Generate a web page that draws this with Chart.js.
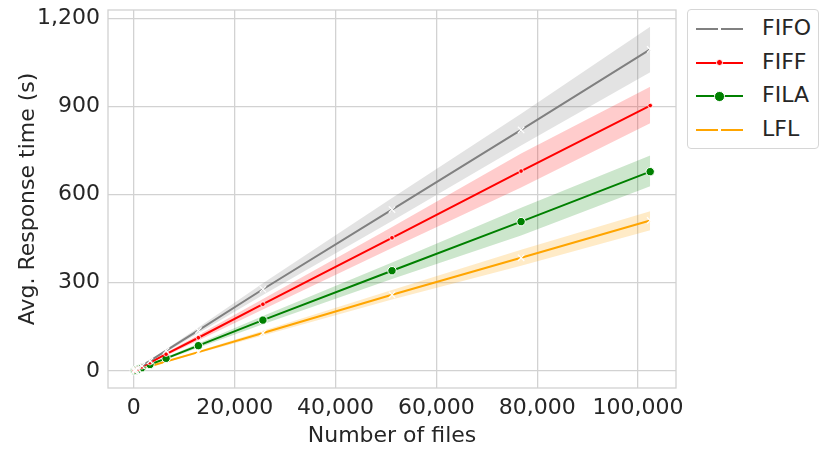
<!DOCTYPE html>
<html>
<head>
<meta charset="utf-8">
<script src="https://cdn.jsdelivr.net/npm/chart.js@4"></script>
<style>
  body { margin: 0; background: #fff; }
  #wrap { position: relative; width: 830px; height: 456px; font-family: "DejaVu Sans", sans-serif; }
  #legend {
    position: absolute; left: 687px; top: 9px; width: 132px; height: 140px;
    border: 1px solid #d6d6d6; border-radius: 4px; background: #fff; box-sizing: border-box;
  }
  .item { position: absolute; left: 8px; height: 24px; width: 120px; }
  .sample { position: absolute; left: 0; top: 11px; width: 47px; height: 2px; }
  .gap { position: absolute; left: 22px; top: -1px; width: 3px; height: 4px; background: #fff; }
  .dot { position: absolute; border-radius: 50%; border: 1px solid #fff; }
  .lbl { position: absolute; left: 66px; top: -2px; font-size: 22px; color: #262626; }
</style>
</head>
<body>
<div id="wrap">
  <canvas id="chart" width="830" height="456"></canvas>
  <div id="legend"></div>
</div>
<script>
// --- DATA ---
const files = [100, 200, 400, 800, 1600, 3200, 6400, 12800, 25600, 51200, 76800, 102400];
const seriesNames = ["FIFO", "FIFF", "FILA", "LFL"];

const fifo   = [1.1, 2.2, 4.3, 8.6, 17, 34, 69, 138, 278, 549, 820, 1094];
const fifoLo = [1.0, 2.0, 4.0, 8.0, 15.8, 31.6, 64, 128, 258, 510, 767, 1016];
const fifoHi = [1.2, 2.4, 4.6, 9.2, 18.2, 36.4, 74, 148, 298, 588, 875, 1171];

const fiff   = [0.9, 1.8, 3.6, 7.1, 14, 28, 57, 113, 227, 453, 680, 903];
const fiffLo = [0.8, 1.7, 3.3, 6.6, 13, 26, 52, 104, 209, 418, 624, 843];
const fiffHi = [1.0, 1.9, 3.9, 7.6, 15, 30, 62, 122, 245, 490, 740, 967];

const fila   = [0.7, 1.4, 2.7, 5.4, 11, 22, 43, 86, 173, 341, 508, 678];
const filaLo = [0.6, 1.3, 2.5, 5.0, 10, 20, 39, 79, 159, 313, 461, 628];
const filaHi = [0.8, 1.5, 2.9, 5.8, 12, 24, 47, 93, 187, 369, 555, 733];

const lfl    = [0.5, 1.0, 2.0, 4.0, 8, 16, 32, 64, 129, 259, 385, 512];
const lflLo  = [0.5, 0.9, 1.9, 3.8, 7.5, 15, 30, 60, 121, 243, 358, 479];
const lflHi  = [0.5, 1.1, 2.1, 4.2, 8.5, 17, 34, 68, 137, 275, 412, 543];

const xTicks = [0, 20000, 40000, 60000, 80000, 100000];
const yTicks = [0, 300, 600, 900, 1200];

// --- STYLE ---
const colors = ["#808080", "#ff0000", "#008000", "#ffa500"];
const bandColors = ["rgba(128,128,128,0.22)", "rgba(255,0,0,0.2)", "rgba(0,128,0,0.2)", "rgba(255,165,0,0.22)"];
const textColor = "#262626";
const gridColor = "#d2d2d2";

const means = [fifo, fiff, fila, lfl];
const lows = [fifoLo, fiffLo, filaLo, lflLo];
const highs = [fifoHi, fiffHi, filaHi, lflHi];
const markers = [
  { style: "crossRot", r: 4.5, bw: 1.2 },
  { style: "circle", r: 2.3, bw: 0.8 },
  { style: "circle", r: 4.2, bw: 1 },
  { style: "crossRot", r: 4.5, bw: 1.2 }
];

function pts(arr) { return files.map((f, i) => ({ x: f, y: arr[i] })); }

const datasets = [];
seriesNames.forEach((name, s) => {
  datasets.push({ label: name + " lo", data: pts(lows[s]), borderWidth: 0, pointRadius: 0, fill: false, order: 1 });
  datasets.push({ label: name + " hi", data: pts(highs[s]), borderWidth: 0, pointRadius: 0, fill: "-1", backgroundColor: bandColors[s], order: 1 });
});
seriesNames.forEach((name, s) => {
  datasets.push({
    label: name, data: pts(means[s]), borderColor: colors[s], borderWidth: 2, fill: false,
    pointStyle: markers[s].style, pointRadius: markers[s].r, pointBorderWidth: markers[s].bw,
    pointBackgroundColor: colors[s], pointBorderColor: "#ffffff", order: 0
  });
});

// frame on all four sides (seaborn whitegrid)
const frame = {
  id: "frame",
  afterDraw(chart) {
    const a = chart.chartArea, ctx = chart.ctx;
    ctx.save();
    ctx.strokeStyle = gridColor;
    ctx.lineWidth = 1.3;
    ctx.strokeRect(a.left, a.top, a.right - a.left, a.bottom - a.top);
    ctx.restore();
  }
};

const fmt = v => Number(v).toLocaleString("en-US");

new Chart(document.getElementById("chart"), {
  type: "line",
  data: { datasets },
  options: {
    responsive: false,
    animation: false,
    layout: { padding: { left: 0, right: 154, top: 10, bottom: 0 }, autoPadding: false },
    plugins: { legend: { display: false }, tooltip: { enabled: false } },
    scales: {
      x: {
        type: "linear", min: -5120, max: 107520,
        afterBuildTicks: sc => { sc.ticks = xTicks.map(v => ({ value: v })); },
        afterFit: sc => { sc.height = 68; sc.paddingLeft = 0; sc.paddingRight = 0; },
        grid: { color: gridColor, lineWidth: 1.3, drawTicks: false },
        border: { display: false },
        ticks: { color: textColor, font: { family: "DejaVu Sans", size: 22 }, padding: 7, maxRotation: 0, callback: fmt },
        title: { display: true, text: "Number of files", color: textColor, font: { family: "DejaVu Sans", size: 22 }, padding: { top: 0, bottom: 7 } }
      },
      y: {
        type: "linear", min: -58, max: 1228,
        afterBuildTicks: sc => { sc.ticks = yTicks.map(v => ({ value: v })); },
        afterFit: sc => { sc.width = 108; sc.paddingTop = 0; sc.paddingBottom = 0; },
        grid: { color: gridColor, lineWidth: 1.3, drawTicks: false },
        border: { display: false },
        ticks: { color: textColor, font: { family: "DejaVu Sans", size: 22 }, padding: 8, callback: fmt },
        title: { display: true, text: "Avg. Response time (s)", color: textColor, font: { family: "DejaVu Sans", size: 22 }, padding: { top: 15, bottom: 0 } }
      }
    }
  },
  plugins: [frame]
});

// legend (outside, upper right)
const legend = document.getElementById("legend");
seriesNames.forEach((name, s) => {
  const item = document.createElement("div");
  item.className = "item";
  item.style.top = (7 + s * 33.7) + "px";
  const line = document.createElement("div");
  line.className = "sample";
  line.style.background = colors[s];
  if (markers[s].style === "crossRot") {
    const g = document.createElement("div");
    g.className = "gap";
    line.appendChild(g);
  } else {
    const d = document.createElement("div");
    d.className = "dot";
    const r = markers[s].r;
    d.style.width = d.style.height = (2 * r) + "px";
    d.style.left = (23.5 - r - 1) + "px";
    d.style.top = (1 - r - 1) + "px";
    d.style.background = colors[s];
    line.appendChild(d);
  }
  const t = document.createElement("div");
  t.className = "lbl";
  t.textContent = name;
  item.appendChild(line);
  item.appendChild(t);
  legend.appendChild(item);
});
</script>
</body>
</html>
